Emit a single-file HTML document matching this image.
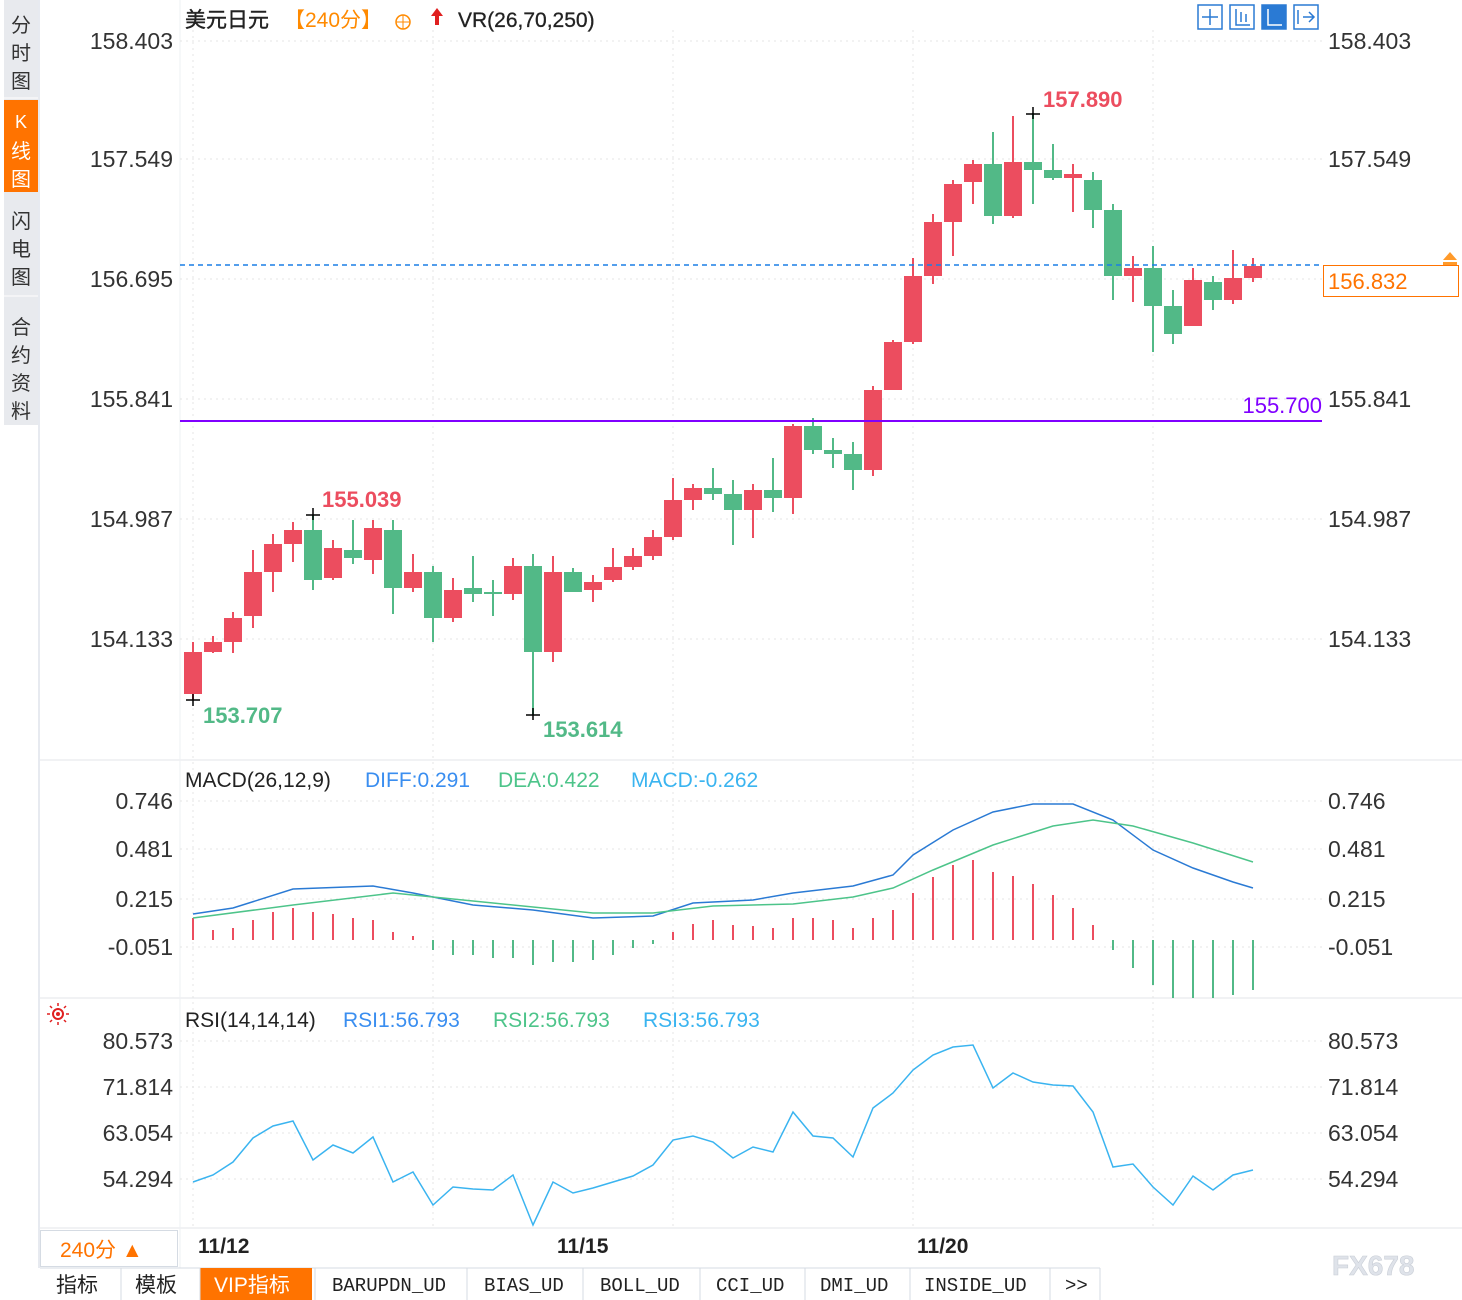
<!DOCTYPE html>
<html><head><meta charset="utf-8"><style>
html,body{margin:0;padding:0;background:#fff;width:1462px;height:1300px;overflow:hidden}
svg{display:block}
text{font-family:"Liberation Sans","Noto Sans CJK SC",sans-serif}
text.mono{font-family:"Liberation Mono","Noto Sans CJK SC",monospace}
</style></head><body>
<svg id="s" width="1462" height="1300" xmlns="http://www.w3.org/2000/svg">
<rect x="0" y="0" width="1462" height="1300" fill="#fff"/>
<rect x="4" y="0" width="34" height="425" fill="#e8eaee"/>
<rect x="4" y="100" width="34" height="92" fill="#ff7300"/>
<line x1="39" y1="0" x2="39" y2="1268" stroke="#cfd6e0"/>
<g font-size="20" fill="#333" text-anchor="middle">
<text x="21" y="32">分</text><text x="21" y="60">时</text><text x="21" y="88">图</text>
<text x="21" y="128" fill="#fff" font-size="18">K</text><text x="21" y="158" fill="#fff">线</text><text x="21" y="186" fill="#fff">图</text>
<text x="21" y="228">闪</text><text x="21" y="256">电</text><text x="21" y="284">图</text>
<text x="21" y="334">合</text><text x="21" y="362">约</text><text x="21" y="390">资</text><text x="21" y="418">料</text>
</g>
<line x1="4" y1="98" x2="38" y2="98" stroke="#fff"/><line x1="4" y1="296" x2="38" y2="296" stroke="#fff"/>
<line x1="40" y1="760" x2="1462" y2="760" stroke="#e3e6ea"/>
<line x1="40" y1="998" x2="1462" y2="998" stroke="#e3e6ea"/>
<line x1="40" y1="1228" x2="1462" y2="1228" stroke="#e3e6ea"/>
<line x1="180" y1="0" x2="180" y2="1268" stroke="#eef0f3"/>
<g id="grid" stroke="#e4e4e4" stroke-dasharray="2,4"></g>
<text x="185" y="27" font-size="21" fill="#222" stroke="#222" stroke-width="0.4">美元日元</text>
<text x="284" y="27" font-size="21" fill="#ff8a00">【240分】</text>
<circle cx="403" cy="22" r="7" fill="none" stroke="#ff8a00" stroke-width="1.5"/><line x1="396" y1="22" x2="410" y2="22" stroke="#ff8a00"/><line x1="403" y1="15" x2="403" y2="29" stroke="#ff8a00"/>
<path d="M437 8 l-6 8 h4 v9 h4 v-9 h4z" fill="#e02020"/>
<text x="458" y="27" font-size="21" fill="#222" stroke="#222" stroke-width="0.3">VR(26,70,250)</text>
<g fill="none" stroke="#2a7ad4" stroke-width="1.5">
<rect x="1198" y="5" width="24" height="24"/><rect x="1230" y="5" width="24" height="24"/><rect x="1262" y="5" width="24" height="24" fill="#2a7ad4"/><rect x="1294" y="5" width="24" height="24"/>
<path d="M1210 9 v16 M1202 17 h16"/><path d="M1236 9 v16 h14 M1241 12 v10 M1246 14 v8"/><path d="M1268 9 v16 h14" stroke="#fff"/><path d="M1298 10 v14 M1303 17 h11 M1309 12 l5 5 -5 5"/>
</g>
<g id="main"></g>
<g font-size="23" fill="#333" text-anchor="end" id="ly"></g>
<g font-size="23" fill="#333" id="ry"></g>
<line x1="180" y1="265" x2="1322" y2="265" stroke="#1a7fe6" stroke-width="1.5" stroke-dasharray="5,4"/>
<line x1="180" y1="421" x2="1322" y2="421" stroke="#8000ff" stroke-width="2"/>
<text x="1322" y="413" font-size="22" fill="#8000ff" text-anchor="end">155.700</text>
<rect x="1323.5" y="265.5" width="135" height="31" fill="#fff" stroke="#ff7300"/>
<text x="1328" y="289" font-size="22" fill="#ff7300">156.832</text>
<path d="M1450 252 l-7 8 h14z M1443 262 h14 v3 h-14z" fill="#ff9a2a"/>
<g stroke="#000" stroke-width="1.5"><path d="M186 700 h14 M193 694 v12"/><path d="M306 515 h14 M313 508 v12"/><path d="M526 715 h14 M533 708 v12"/><path d="M1026 114 h14 M1033 107 v12"/></g>
<text x="203" y="723" font-size="22" font-weight="bold" fill="#52b987">153.707</text>
<text x="322" y="507" font-size="22" font-weight="bold" fill="#ec4d5f">155.039</text>
<text x="543" y="737" font-size="22" font-weight="bold" fill="#52b987">153.614</text>
<text x="1043" y="107" font-size="22" font-weight="bold" fill="#ec4d5f">157.890</text>
<text x="185" y="787" font-size="21" fill="#222">MACD(26,12,9)</text>
<text x="365" y="787" font-size="21" fill="#3a8ef0">DIFF:0.291</text>
<text x="498" y="787" font-size="21" fill="#4dc48a">DEA:0.422</text>
<text x="631" y="787" font-size="21" fill="#3ab4f0">MACD:-0.262</text>
<g id="macd"></g>
<circle cx="58" cy="1014" r="5" fill="none" stroke="#e02020" stroke-width="2"/><circle cx="58" cy="1014" r="2" fill="#e02020"/>
<g stroke="#e02020" stroke-width="1.5"><path d="M58 1003 v3 M58 1022 v3 M47 1014 h3 M66 1014 h3 M50 1006 l2 2 M64 1020 l2 2 M66 1006 l-2 2 M50 1022 l2 -2"/></g>
<text x="185" y="1027" font-size="21" fill="#222">RSI(14,14,14)</text>
<text x="343" y="1027" font-size="21" fill="#3a8ef0">RSI1:56.793</text>
<text x="493" y="1027" font-size="21" fill="#4dc48a">RSI2:56.793</text>
<text x="643" y="1027" font-size="21" fill="#3ab4f0">RSI3:56.793</text>
<g id="rsi"></g>
<rect x="40.5" y="1230.5" width="137" height="36" fill="#fff" stroke="#d5dbe3"/>
<text x="60" y="1257" font-size="21" fill="#ff7300">240分 ▲</text>
<g font-size="21" font-weight="bold" fill="#222"><text x="198" y="1253">11/12</text><text x="557" y="1253">11/15</text><text x="917" y="1253">11/20</text></g>
<text x="1332" y="1275" font-size="28" font-weight="bold" fill="#dfe3ea" stroke="#c9ced6" stroke-width="0.6">FX678</text>
<line x1="40" y1="1268" x2="1100" y2="1268" stroke="#d5dbe3"/>
<rect x="200" y="1268" width="112" height="32" fill="#ff7300"/>
<g font-size="19" fill="#222">
<text x="56" y="1292" font-size="21">指标</text><text x="135" y="1292" font-size="21">模板</text>
<text x="214" y="1292" font-size="21" fill="#fff">VIP指标</text>
<text class="mono" x="332" y="1291">BARUPDN_UD</text>
<text class="mono" x="484" y="1291">BIAS_UD</text>
<text class="mono" x="600" y="1291">BOLL_UD</text>
<text class="mono" x="716" y="1291">CCI_UD</text>
<text class="mono" x="820" y="1291">DMI_UD</text>
<text class="mono" x="924" y="1291">INSIDE_UD</text>
<text class="mono" x="1065" y="1291">&gt;&gt;</text>
</g>
<g stroke="#d5dbe3"><path d="M121 1268 v32 M200 1268 v32 M315 1268 v32 M467 1268 v32 M583 1268 v32 M700 1268 v32 M805 1268 v32 M910 1268 v32 M1050 1268 v32 M1100 1268 v32"/></g>
</svg>
<script>
const NS="http://www.w3.org/2000/svg";
function el(p,t,a){const e=document.createElementNS(NS,t);for(const k in a)e.setAttribute(k,a[k]);document.getElementById(p).appendChild(e);return e;}
[41,159,279,399,519,639].forEach(y=>el("grid","line",{x1:180,y1:y,x2:1322,y2:y}));
[801,849,899,947].forEach(y=>el("grid","line",{x1:180,y1:y,x2:1322,y2:y}));
[1041,1087,1133,1179].forEach(y=>el("grid","line",{x1:180,y1:y,x2:1322,y2:y}));
[193,433,673,913,1153].forEach(x=>el("grid","line",{x1:x,y1:30,x2:x,y2:1228}));
function lab(y,t){const a=el("ly","text",{x:173,y:y+8});a.textContent=t;const b=el("ry","text",{x:1328,y:y+8});b.textContent=t;}
[[41,"158.403"],[159,"157.549"],[279,"156.695"],[399,"155.841"],[519,"154.987"],[639,"154.133"],
 [801,"0.746"],[849,"0.481"],[899,"0.215"],[947,"-0.051"],
 [1041,"80.573"],[1087,"71.814"],[1133,"63.054"],[1179,"54.294"]].forEach(v=>lab(v[0],v[1]));
const C=[
["r",652,694,642,700],["r",642,652,636,653],["r",618,642,612,653],["r",572,616,550,628],["r",544,572,534,592],
["r",530,544,522,562],["g",530,580,515,590],["r",548,578,540,580],["g",550,558,520,564],["r",528,560,520,574],
["g",530,588,520,614],["r",572,588,554,592],["g",572,618,566,642],["r",590,618,578,622],["g",588,594,556,602],
["g",592,594,580,616],["r",566,594,558,600],["g",566,652,554,715],["r",572,652,556,662],["g",572,592,568,592],
["r",582,590,575,602],["r",567,580,548,582],["r",556,567,548,570],["r",537,556,530,560],
["r",500,537,478,540],["r",488,500,484,510],["g",488,494,468,500],["g",494,510,480,545],["r",490,510,484,538],
["g",490,498,458,512],["r",426,498,424,514],["g",426,450,418,454],["g",450,454,438,468],["g",454,470,442,490],
["r",390,470,386,476],["r",342,390,340,390],["r",276,342,258,344],["r",222,276,214,284],["r",184,222,180,256],
["r",164,182,160,204],["g",164,216,132,224],["r",162,216,116,218],["g",162,170,113,204],["g",170,178,144,180],
["r",174,178,164,212],["g",180,210,172,228],["g",210,276,204,300],["r",268,276,256,302],["g",268,306,246,352],
["g",306,334,290,344],["r",280,326,268,326],["g",282,300,276,310],["r",278,300,250,304],["r",266,278,258,282]];
C.forEach((c,i)=>{const x=193+20*i;const col=c[0]=="r"?"#ec4d5f":"#52b987";
 el("main","line",{x1:x,y1:c[3],x2:x,y2:c[4],stroke:col,"stroke-width":2});
 el("main","rect",{x:x-9,y:c[1],width:18,height:Math.max(2,c[2]-c[1]),fill:col});});
const H=[918,930,928,920,912,908,912,914,918,920,932,936,950,955,955,958,958,965,962,962,960,955,948,944,932,924,920,925,926,928,918,918,920,928,918,910,893,877,865,860,872,876,884,895,908,925,950,968,985,998,998,998,995,990];
H.forEach((y,i)=>{const x=193+20*i;el("macd","line",{x1:x,y1:940,x2:x,y2:y,stroke:y<940?"#ec4d5f":"#52b987","stroke-width":2});});
function pl(p,pts,col){const d=pts.map((q,i)=>(i?"L":"M")+q[0]+" "+q[1]).join(" ");el(p,"path",{d:d,fill:"none",stroke:col,"stroke-width":1.5});}
pl("macd",[[193,914],[233,908],[293,889],[373,886],[413,893],[473,905],[533,910],[593,918],[653,916],[693,903],[753,900],[793,893],[853,886],[893,875],[913,855],[953,830],[993,812],[1033,804],[1073,804],[1113,820],[1153,850],[1193,868],[1233,882],[1253,888]],"#2a7ad4");
pl("macd",[[193,918],[293,905],[393,893],[493,903],[593,913],[653,913],[713,906],[793,904],[853,897],[893,888],[933,870],[993,845],[1053,826],[1093,820],[1133,826],[1193,843],[1253,862]],"#4dc48a");
const R=[1182,1175,1162,1138,1126,1121,1160,1145,1153,1137,1182,1172,1205,1187,1189,1190,1175,1225,1182,1193,1188,1182,1176,1165,1140,1136,1142,1158,1147,1152,1112,1136,1138,1157,1108,1093,1070,1055,1047,1045,1088,1073,1082,1085,1086,1112,1167,1164,1187,1205,1176,1190,1175,1170];
pl("rsi",R.map((y,i)=>[193+20*i,y]),"#3ab4f0");
</script>
</body></html>
